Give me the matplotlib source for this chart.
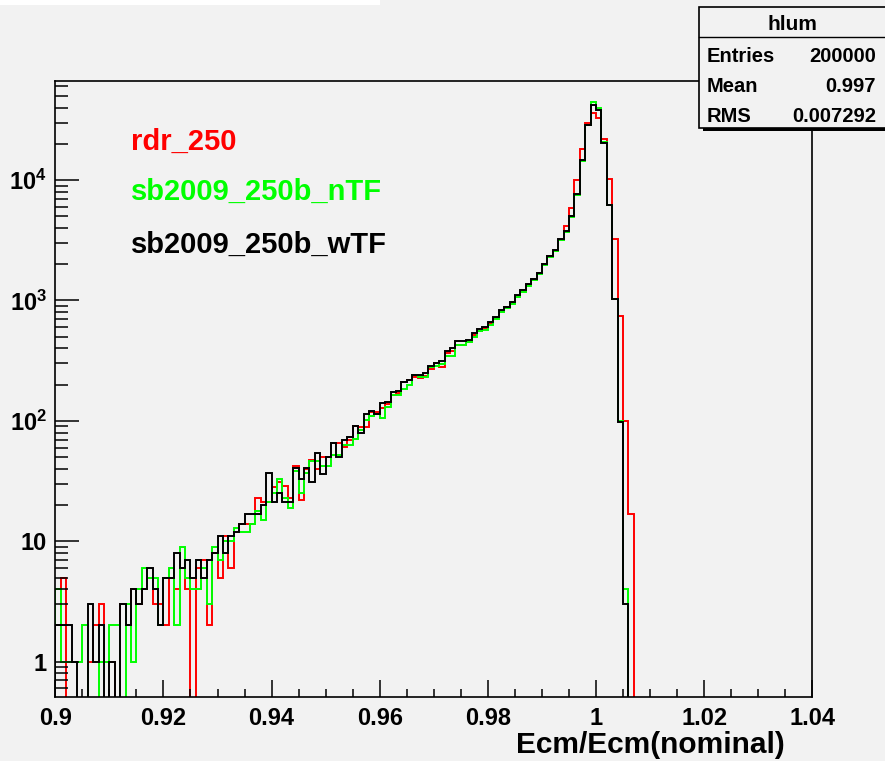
import numpy as np
import matplotlib
matplotlib.use("Agg")
import matplotlib.pyplot as plt
from matplotlib.patches import Rectangle
from matplotlib.lines import Line2D
from matplotlib.ticker import FixedLocator, NullFormatter

plt.rcParams["font.family"] = ["Liberation Sans", "DejaVu Sans"]
plt.rcParams["font.weight"] = "bold"
plt.rcParams["mathtext.fontset"] = "custom"
plt.rcParams["mathtext.rm"] = "Liberation Sans:bold"
plt.rcParams["mathtext.bf"] = "Liberation Sans:bold"
plt.rcParams["mathtext.it"] = "Liberation Sans:bold"

# Histogram binning: 140 bins of 0.001 between 0.90 and 1.04
x_min, x_max, n_bins = 0.90, 1.04, 140

# Bin contents (bins beyond the listed ones are empty)
rdr_250 = [
    4, 5, 0, 0, 0, 0, 1, 2, 3, 1,
    1, 0, 3, 2, 4, 3, 4, 5, 3, 3,
    2, 5, 4, 6, 4, 0, 6, 7, 2, 8,
    5, 11, 6, 12, 14, 14, 14, 23, 21, 21,
    28, 31, 29, 23, 42, 22, 40, 47, 40, 50,
    50, 66, 66, 61, 69, 90, 89, 89, 118, 118,
    127, 137, 164, 170, 212, 220, 232, 226, 235, 270,
    300, 281, 363, 380, 424, 430, 455, 520, 560, 590,
    650, 720, 820, 880, 960, 1080, 1200, 1350, 1480, 1680,
    2000, 2330, 2600, 3150, 4160, 5820, 10000, 18000, 30000, 36000,
    33000, 21800, 10200, 3240, 743, 100, 17, 0,
]
sb2009_nTF = [
    4, 1, 1, 1, 1, 2, 0, 0, 1, 1,
    2, 2, 0, 3, 1, 4, 6, 5, 5, 2,
    5, 6, 2, 9, 5, 4, 4, 6, 3, 9,
    7, 10, 10, 13, 12, 12, 14, 18, 15, 21,
    25, 33, 23, 19, 38, 25, 37, 46, 46, 42,
    42, 52, 52, 63, 63, 71, 84, 101, 110, 115,
    106, 131, 164, 164, 184, 199, 240, 232, 232, 280,
    285, 295, 343, 343, 424, 424, 450, 500, 560, 570,
    630, 700, 800, 860, 940, 1070, 1180, 1320, 1470, 1650,
    1960, 2300, 2560, 3150, 3700, 4900, 7500, 14500, 28500, 44500,
    40000, 20700, 6200, 1030, 99, 4, 0,
]
sb2009_wTF = [
    2, 2, 2, 1, 0, 0, 3, 1, 2, 0,
    1, 0, 3, 2, 4, 3, 4, 6, 4, 2,
    5, 5, 8, 6, 7, 5, 7, 5, 7, 8,
    11, 8, 11, 12, 14, 17, 17, 17, 20, 37,
    21, 25, 21, 21, 41, 33, 41, 31, 54, 36,
    50, 66, 50, 69, 73, 91, 79, 113, 121, 115,
    140, 144, 175, 176, 212, 218, 240, 241, 248, 286,
    304, 316, 383, 400, 458, 462, 470, 533, 583, 600,
    661, 733, 836, 888, 977, 1110, 1221, 1370, 1508, 1702,
    2010, 2356, 2625, 3219, 3800, 5027, 7610, 14680, 28700, 42400,
    38400, 20500, 6160, 1020, 98, 3, 0,
]

series_names = ["rdr_250", "sb2009_250b_nTF", "sb2009_250b_wTF"]
series_colors = ["#ff0000", "#00ff00", "#000000"]

x_ticks = [0.90, 0.92, 0.94, 0.96, 0.98, 1.00, 1.02, 1.04]
x_tick_labels = ["0.9", "0.92", "0.94", "0.96", "0.98", "1", "1.02", "1.04"]
y_ticks = [1, 10, 100, 1000, 10000]
y_tick_labels = ["1", "10", r"$\mathbf{10^{2}}$", r"$\mathbf{10^{3}}$", r"$\mathbf{10^{4}}$"]

stats_title = "hlum"
stats_rows = [("Entries", "200000"), ("Mean", "0.997"), ("RMS", "0.007292")]

BG = "#f2f2f2"
W, H = 885, 761


def fx(px):
    return px / W


def fy(py):
    return 1 - py / H


fig = plt.figure(figsize=(W / 100, H / 100), dpi=100, facecolor=BG)

# thin white band along the top-left edge of the canvas
fig.add_artist(Rectangle((0, fy(5)), fx(380), fy(0) - fy(5), transform=fig.transFigure,
                         facecolor="white", edgecolor="none", zorder=0))

ax = fig.add_axes([fx(55.3), fy(697), fx(812.3) - fx(55.3), fy(80.7) - fy(697)])
ax.set_facecolor(BG)

edges = np.linspace(x_min, x_max, n_bins + 1)
floor = 1e-3
for vals, col in zip([rdr_250, sb2009_nTF, sb2009_wTF], series_colors):
    v = np.zeros(n_bins)
    v[: len(vals)] = vals
    v = np.where(v > 0, v, floor)
    ax.stairs(v, edges, baseline=floor, color=col, linewidth=1.4)

ax.set_yscale("log")
ax.set_xlim(x_min, x_max)
ax.set_ylim(0.509, 66900)

# x axis ticks
ax.set_xticks(x_ticks)
ax.set_xticklabels(x_tick_labels)
ax.xaxis.set_minor_locator(FixedLocator(np.arange(0.9, 1.0401, 0.005)))
ax.tick_params(axis="x", which="major", direction="in", length=12.5, width=1.1,
               labelsize=17, pad=7, top=False)
ax.tick_params(axis="x", which="minor", direction="in", length=6, width=1.1, top=False)

# y axis ticks
ax.set_yticks(y_ticks)
ax.set_yticklabels(y_tick_labels)
minor_y = [m * 10 ** e for e in range(-1, 5) for m in range(2, 10)]
minor_y = [m for m in minor_y if 0.509 <= m <= 66900]
ax.yaxis.set_minor_locator(FixedLocator(minor_y))
ax.yaxis.set_minor_formatter(NullFormatter())
ax.tick_params(axis="y", which="major", direction="in", length=17, width=1.1,
               labelsize=17, pad=6, right=False)
ax.tick_params(axis="y", which="minor", direction="in", length=9, width=1.1, right=False)
for lab in ax.get_xticklabels() + ax.get_yticklabels():
    lab.set_fontweight("bold")

for s in ax.spines.values():
    s.set_linewidth(1.2)
    s.set_color("black")

# axis title
fig.text(fx(785), fy(753), "Ecm/Ecm(nominal)", ha="right", va="baseline",
         fontsize=21.5, fontweight="bold")

# series labels
for name, col, base in zip(series_names, series_colors, [150, 199.5, 252.5]):
    fig.text(fx(131), fy(base), name, color=col, ha="left", va="baseline",
             fontsize=21, fontweight="bold")

# statistics box
box_l, box_t, box_r, box_b = 699, 7, 890, 128
fig.add_artist(Rectangle((fx(703), fy(131)), fx(box_r) - fx(703), fy(box_b) - fy(131),
                         transform=fig.transFigure, facecolor="black", edgecolor="none",
                         zorder=5))
fig.add_artist(Rectangle((fx(box_l), fy(box_b)), fx(box_r) - fx(box_l), fy(box_t) - fy(box_b),
                         transform=fig.transFigure, facecolor=BG, edgecolor="black",
                         linewidth=1.2, zorder=6))
fig.add_artist(Line2D([fx(box_l), fx(box_r)], [fy(36.7), fy(36.7)], transform=fig.transFigure,
                      color="black", linewidth=1.0, zorder=7))
fig.text(fx(792), fy(30), stats_title, ha="center", va="baseline", fontsize=15,
         fontweight="bold", zorder=8)
for (lab, val), base in zip(stats_rows, [62, 92, 122]):
    fig.text(fx(707), fy(base), lab, ha="left", va="baseline", fontsize=14.5,
             fontweight="bold", zorder=8)
    fig.text(fx(876), fy(base), val, ha="right", va="baseline", fontsize=14.5,
             fontweight="bold", zorder=8)

fig.savefig("out.png", dpi=100, facecolor=BG)
